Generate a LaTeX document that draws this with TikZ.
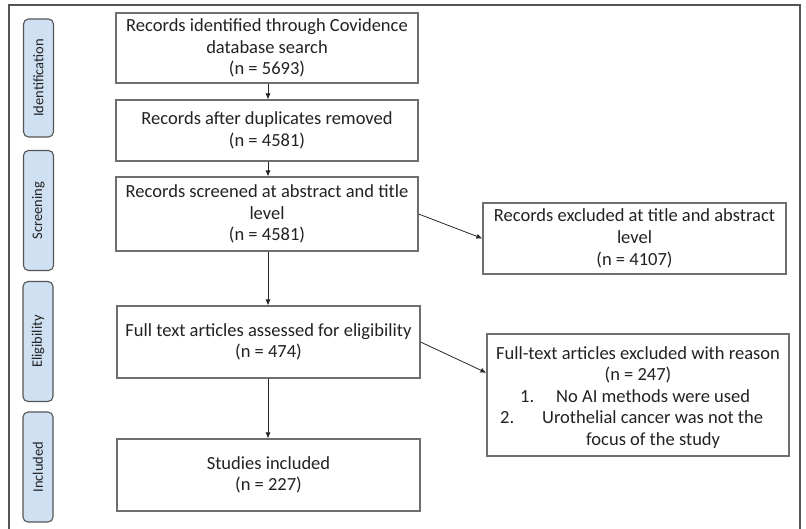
\documentclass[tikz,border=0pt]{standalone}
\usepackage{fontspec}
\setmainfont{Carlito}
\usetikzlibrary{arrows.meta,calc}
\definecolor{boxline}{HTML}{6E6E6E}
\definecolor{frameline}{HTML}{555555}
\definecolor{phasefill}{HTML}{CFE0F3}
\definecolor{txt}{HTML}{222222}
\tikzset{
  x=1pt,y=-1pt,
  mainbox/.style={draw=boxline,line width=1.1pt,fill=white,rectangle,inner sep=0pt,
    text=txt,align=center,font=\fontsize{18.5}{21.7}\selectfont},
  phase/.style={draw=frameline,line width=1.1pt,fill=phasefill,rounded corners=5pt,
    rectangle,inner sep=0pt,minimum width=30pt,text=txt,
    font=\fontsize{14.5}{16}\selectfont},
  plain/.style={inner sep=0pt,text=txt,font=\fontsize{18.5}{21.7}\selectfont},
  arr/.style={draw=black!85,line width=0.8pt,-{Latex[length=6pt,width=5pt]}}
}
\begin{document}
\begin{tikzpicture}
\useasboundingbox (0,0) rectangle (806,529);
% outer frame (open at the bottom)
\draw[frameline,line width=1.4pt] (9,529) -- (9,5) -- (800,5) -- (800,529);
% phase labels
\node[phase,minimum height=118pt] (pid) at (38.5,78) {\rotatebox{90}{Identification}};
\node[phase,minimum height=120pt] (psc) at (38.5,210.5) {\rotatebox{90}{Screening}};
\node[phase,minimum height=120pt] (pel) at (38,341.5) {\rotatebox{90}{Eligibility}};
\node[phase,minimum height=110pt] (pin) at (38,467) {\rotatebox{90}{Included}};
% main boxes
\node[mainbox,minimum width=302pt,minimum height=70pt] (b1) at (267,48)
  {Records identified through Covidence\\database search\\(n = 5693)};
\node[mainbox,minimum width=302pt,minimum height=61pt] (b2) at (267,130.5)
  {Records after duplicates removed\\(n = 4581)};
\node[mainbox,minimum width=302pt,minimum height=74pt] (b3) at (267,214)
  {Records screened at abstract and title\\level\\(n = 4581)};
\node[mainbox,minimum width=303pt,minimum height=72pt] (b4) at (268.5,342)
  {Full text articles assessed for eligibility\\(n = 474)};
\node[mainbox,minimum width=303pt,minimum height=72pt] (b5) at (268.5,475)
  {Studies included\\(n = 227)};
% right boxes
\node[mainbox,minimum width=303pt,minimum height=71pt] (r1) at (634.5,238.5)
  {Records excluded at title and abstract\\level\\(n = 4107)};
\node[mainbox,minimum width=302pt,minimum height=122pt] (r2) at (638,395) {};
\node[plain] (r2a) at (638,353) {Full-text articles excluded with reason};
\node[plain] (r2b) at (638,375) {(n = 247)};
\node[plain,anchor=base west] (r2c1) at (520,402) {1.};
\node[plain,anchor=base west] (r2c2) at (556,402) {No AI methods were used};
\node[plain,anchor=base west] (r2d1) at (500,423) {2.};
\node[plain,anchor=base west] (r2d2) at (542,423) {Urothelial cancer was not the};
\node[plain,anchor=base west] (r2e) at (586,445) {focus of the study};
% connectors
\draw[arr] (b1.south -| 268,0) -- (b2.north -| 268,0);
\draw[arr] (b2.south -| 268,0) -- (b3.north -| 268,0);
\draw[arr] (b3.south -| 268,0) -- (b4.north -| 268,0);
\draw[arr] (b4.south -| 268,0) -- (b5.north -| 268,0);
\draw[arr] (b3.east) -- (r1.west);
\draw[arr] (b4.east) -- ($(r2.north west)!0.32!(r2.south west)$);
\end{tikzpicture}
\end{document}
